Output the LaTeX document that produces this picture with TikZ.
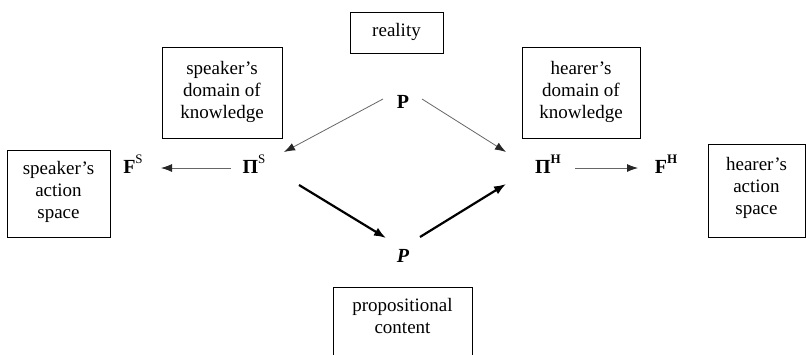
\documentclass[tikz,border=0pt]{standalone}
\usepackage{fontspec}
\setmainfont{Liberation Serif}
\usetikzlibrary{arrows.meta}
\newcommand{\upsc}[1]{\raisebox{0.5em}{\fontsize{13}{13}\selectfont #1}}
\begin{document}
\begin{tikzpicture}[x=1pt,y=-1pt,
  box/.style={draw,line width=1pt,inner sep=0pt},
  lbl/.style={font=\fontsize{19}{22}\selectfont,align=center},
  sym/.style={font=\fontsize{20}{22}\selectfont\bfseries},
  thin/.style={draw=black!60,line width=0.8pt,-{Latex[length=11pt,width=8pt,fill=black!85,color=black!85]}},
  thick/.style={draw=black,line width=2.2pt,-{Latex[length=12pt,width=9pt]}}]
\useasboundingbox (0,0) rectangle (806,354);
% boxes
\draw[box] (350,12) rectangle (443,53);
\node[lbl] (reality) at (396.5,32) {reality};
\draw[box] (162,47) rectangle (282,138);
\node[lbl] (sdom) at (222,92) {speaker’s\\domain of\\knowledge};
\draw[box] (522,47) rectangle (640,138);
\node[lbl] (hdom) at (581,92) {hearer’s\\domain of\\knowledge};
\draw[box] (7,150) rectangle (110,237);
\node[lbl] (sact) at (58.5,192) {speaker’s\\action\\space};
\draw[box] (708,144) rectangle (805,237);
\node[lbl] (hact) at (756.5,188) {hearer’s\\action\\space};
\draw[box] (333,287) rectangle (472,360);
\node[lbl] (prop) at (402.5,316) {propositional\\content};
% symbols
\node[sym] (P) at (403,102) {P};
\node[sym] (PiS) at (254,164) {Π\upsc{\mdseries S}};
\node[sym] (FS) at (133,164) {F\upsc{\mdseries S}};
\node[sym] (PiH) at (548,164) {Π\upsc{H}};
\node[sym] (FH) at (666,164) {F\upsc{H}};
\node[sym] (p) at (403,256) {\itshape P};
% arrow endpoints
\coordinate (a1) at (383,99);
\coordinate (a2) at (284,152);
\coordinate (b1) at (422,99);
\coordinate (b2) at (506,152);
\coordinate (c1) at (231,168);
\coordinate (c2) at (161,168);
\coordinate (d1) at (575,168);
\coordinate (d2) at (638,168);
\coordinate (e1) at (299,185);
\coordinate (e2) at (386,238);
\coordinate (f1) at (420,237);
\coordinate (f2) at (506,184);
\draw[thin] (a1) -- (a2);
\draw[thin] (b1) -- (b2);
\draw[thin] (c1) -- (c2);
\draw[thin] (d1) -- (d2);
\draw[thick] (e1) -- (e2);
\draw[thick] (f1) -- (f2);
\end{tikzpicture}
\end{document}
